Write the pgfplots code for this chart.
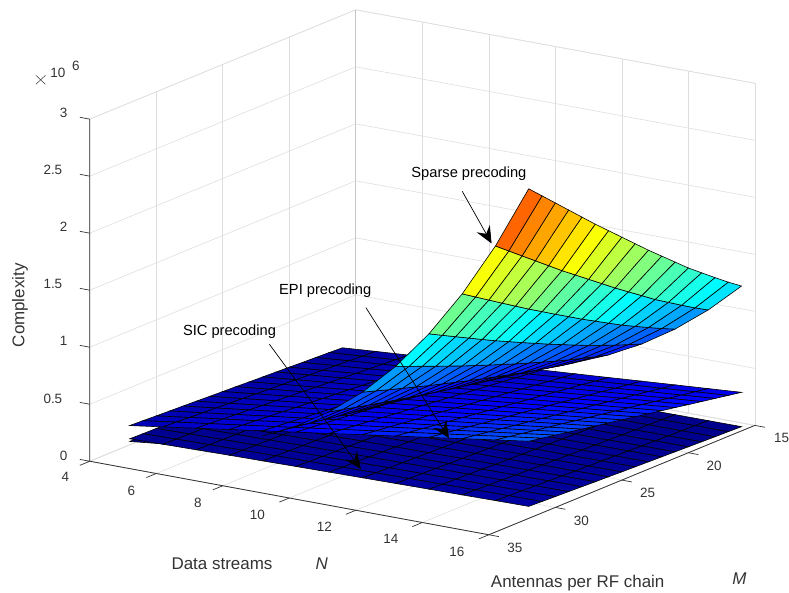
\documentclass[border=0pt]{standalone}
\usepackage{fontspec}
\setmainfont{Liberation Sans}
\usepackage{pgfplots}
\usepackage{pgfplotstable}
\pgfplotsset{compat=1.18}
\usetikzlibrary{arrows.meta}
\definecolor{axdark}{gray}{0.2}
\definecolor{axgrid}{gray}{0.87}
\definecolor{axback}{gray}{0.78}
\pgfplotstableread{
N M sic epi
4 16 .019 .084
4 17 .020 .090
4 18 .022 .095
4 19 .024 .100
4 20 .026 .106
4 21 .028 .111
4 22 .030 .116
4 23 .032 .121
4 24 .034 .127
4 25 .036 .132
4 26 .038 .137
4 27 .041 .143
4 28 .043 .148
4 29 .045 .153
4 30 .048 .158
4 31 .050 .164
4 32 .053 .169
5 16 .021 .106
5 17 .023 .112
5 18 .025 .119
5 19 .027 .125
5 20 .029 .132
5 21 .031 .139
5 22 .033 .145
5 23 .036 .152
5 24 .038 .158
5 25 .041 .165
5 26 .043 .172
5 27 .045 .178
5 28 .048 .185
5 29 .051 .191
5 30 .053 .198
5 31 .056 .205
5 32 .059 .211
6 16 .023 .127
6 17 .025 .135
6 18 .027 .143
6 19 .029 .150
6 20 .032 .158
6 21 .034 .166
6 22 .037 .174
6 23 .039 .182
6 24 .042 .190
6 25 .044 .198
6 26 .047 .206
6 27 .050 .214
6 28 .053 .222
6 29 .056 .230
6 30 .058 .238
6 31 .061 .246
6 32 .064 .253
7 16 .025 .148
7 17 .027 .157
7 18 .029 .166
7 19 .032 .176
7 20 .034 .185
7 21 .037 .194
7 22 .040 .203
7 23 .042 .213
7 24 .045 .222
7 25 .048 .231
7 26 .051 .240
7 27 .054 .249
7 28 .057 .259
7 29 .060 .268
7 30 .063 .277
7 31 .066 .286
7 32 .070 .296
8 16 .026 .169
8 17 .029 .180
8 18 .031 .190
8 19 .034 .201
8 20 .037 .211
8 21 .040 .222
8 22 .042 .232
8 23 .045 .243
8 24 .048 .253
8 25 .051 .264
8 26 .054 .275
8 27 .057 .285
8 28 .061 .296
8 29 .064 .306
8 30 .067 .317
8 31 .071 .327
8 32 .074 .338
9 16 .028 .190
9 17 .031 .202
9 18 .033 .214
9 19 .036 .226
9 20 .039 .238
9 21 .042 .249
9 22 .045 .261
9 23 .048 .273
9 24 .051 .285
9 25 .054 .297
9 26 .058 .309
9 27 .061 .321
9 28 .065 .333
9 29 .068 .345
9 30 .071 .356
9 31 .075 .368
9 32 .079 .380
10 16 .029 .211
10 17 .032 .224
10 18 .035 .238
10 19 .038 .251
10 20 .041 .264
10 21 .044 .277
10 22 .047 .290
10 23 .051 .304
10 24 .054 .317
10 25 .057 .330
10 26 .061 .343
10 27 .064 .356
10 28 .068 .370
10 29 .072 .383
10 30 .075 .396
10 31 .079 .409
10 32 .083 .422
11 16 .031 .232
11 17 .034 .247
11 18 .037 .261
11 19 .040 .276
11 20 .043 .290
11 21 .046 .305
11 22 .050 .319
11 23 .053 .334
11 24 .057 .348
11 25 .060 .363
11 26 .064 .378
11 27 .067 .392
11 28 .071 .407
11 29 .075 .421
11 30 .079 .436
11 31 .083 .450
11 32 .087 .465
12 16 .032 .253
12 17 .035 .269
12 18 .038 .285
12 19 .042 .301
12 20 .045 .317
12 21 .048 .333
12 22 .052 .348
12 23 .055 .364
12 24 .059 .380
12 25 .063 .396
12 26 .067 .412
12 27 .070 .428
12 28 .074 .444
12 29 .079 .459
12 30 .082 .475
12 31 .087 .491
12 32 .091 .507
13 16 .034 .275
13 17 .037 .292
13 18 .040 .309
13 19 .043 .326
13 20 .047 .343
13 21 .050 .360
13 22 .054 .378
13 23 .058 .395
13 24 .062 .412
13 25 .065 .429
13 26 .069 .446
13 27 .073 .463
13 28 .078 .480
13 29 .082 .498
13 30 .086 .515
13 31 .090 .532
13 32 .095 .549
14 16 .035 .296
14 17 .038 .314
14 18 .042 .333
14 19 .045 .351
14 20 .049 .370
14 21 .052 .388
14 22 .056 .407
14 23 .060 .425
14 24 .064 .444
14 25 .068 .462
14 26 .072 .481
14 27 .076 .499
14 28 .080 .517
14 29 .085 .536
14 30 .089 .554
14 31 .094 .573
14 32 .098 .591
15 16 .036 .317
15 17 .040 .337
15 18 .043 .356
15 19 .046 .376
15 20 .050 .396
15 21 .054 .416
15 22 .058 .436
15 23 .062 .455
15 24 .066 .475
15 25 .070 .495
15 26 .074 .515
15 27 .079 .535
15 28 .083 .554
15 29 .088 .574
15 30 .092 .594
15 31 .097 .614
15 32 .102 .634
16 16 .037 .338
16 17 .041 .359
16 18 .044 .380
16 19 .048 .401
16 20 .052 .422
16 21 .056 .444
16 22 .060 .465
16 23 .064 .486
16 24 .068 .507
16 25 .072 .528
16 26 .077 .549
16 27 .081 .570
16 28 .086 .591
16 29 .091 .612
16 30 .095 .634
16 31 .100 .655
16 32 .105 .676
}\datatable
\pgfplotstableread{
N M sparse
4 16 .009
4 17 .009
4 18 .010
4 19 .011
4 20 .012
4 21 .014
4 22 .015
4 23 .016
4 24 .017
4 25 .019
4 26 .020
4 27 .022
4 28 .023
4 29 .025
4 30 .026
4 31 .028
4 32 .030
5 16 .019
5 17 .021
5 18 .023
5 19 .025
5 20 .027
5 21 .030
5 22 .032
5 23 .035
5 24 .037
5 25 .040
5 26 .043
5 27 .046
5 28 .049
5 29 .052
5 30 .055
5 31 .059
5 32 .062
6 16 .037
6 17 .040
6 18 .044
6 19 .048
6 20 .051
6 21 .056
6 22 .060
6 23 .064
6 24 .069
6 25 .074
6 26 .079
6 27 .084
6 28 .090
6 29 .095
6 30 .101
6 31 .107
6 32 .113
7 16 .065
7 17 .070
7 18 .076
7 19 .082
7 20 .088
7 21 .095
7 22 .103
7 23 .110
7 24 .118
7 25 .126
7 26 .134
7 27 .142
7 28 .151
7 29 .160
7 30 .170
7 31 .179
7 32 .189
8 16 .105
8 17 .113
8 18 .122
8 19 .132
8 20 .141
8 21 .152
8 22 .163
8 23 .174
8 24 .186
8 25 .199
8 26 .211
8 27 .224
8 28 .237
8 29 .251
8 30 .265
8 31 .279
8 32 .293
}\sparselow
\pgfplotstableread{
N M sparse
8 16 .105
8 17 .113
8 18 .122
8 19 .132
8 20 .141
8 21 .152
8 22 .163
8 23 .174
8 24 .186
8 25 .199
8 26 .211
8 27 .224
8 28 .237
8 29 .251
8 30 .265
8 31 .279
8 32 .293
9 16 .160
9 17 .172
9 18 .186
9 19 .200
9 20 .214
9 21 .229
9 22 .245
9 23 .262
9 24 .279
9 25 .296
9 26 .314
9 27 .333
9 28 .352
9 29 .371
9 30 .391
9 31 .411
9 32 .432
10 16 .234
10 17 .251
10 18 .270
10 19 .289
10 20 .309
10 21 .331
10 22 .354
10 23 .377
10 24 .401
10 25 .425
10 26 .450
10 27 .475
10 28 .502
10 29 .528
10 30 .556
10 31 .584
10 32 .612
11 16 .330
11 17 .353
11 18 .379
11 19 .406
11 20 .433
11 21 .463
11 22 .493
11 23 .524
11 24 .556
11 25 .589
11 26 .623
11 27 .656
11 28 .692
11 29 .728
11 30 .764
11 31 .801
11 32 .838
12 16 .451
12 17 .483
12 18 .517
12 19 .552
12 20 .588
12 21 .628
12 22 .668
12 23 .708
12 24 .751
12 25 .794
12 26 .838
12 27 .882
12 28 .929
12 29 .975
12 30 1.023
12 31 1.070
12 32 1.118
13 16 .601
13 17 .643
13 18 .687
13 19 .733
13 20 .780
13 21 .831
13 22 .883
13 23 .935
13 24 .990
13 25 1.045
13 26 1.101
13 27 1.157
13 28 1.216
13 29 1.276
13 30 1.336
13 31 1.396
13 32 1.457
14 16 .785
14 17 .838
14 18 .895
14 19 .953
14 20 1.012
14 21 1.077
14 22 1.143
14 23 1.208
14 24 1.278
14 25 1.347
14 26 1.418
14 27 1.488
14 28 1.562
14 29 1.636
14 30 1.711
14 31 1.786
14 32 1.861
15 16 1.007
15 17 1.073
15 18 1.144
15 19 1.217
15 20 1.290
15 21 1.372
15 22 1.453
15 23 1.535
15 24 1.621
15 25 1.707
15 26 1.793
15 27 1.879
15 28 1.970
15 29 2.061
15 30 2.152
15 31 2.243
15 32 2.335
16 16 1.270
16 17 1.352
16 18 1.440
16 19 1.530
16 20 1.620
16 21 1.720
16 22 1.820
16 23 1.920
16 24 2.025
16 25 2.130
16 26 2.235
16 27 2.340
16 28 2.450
16 29 2.560
16 30 2.670
16 31 2.780
16 32 2.890
}\sparsehigh
\begin{document}
\begin{tikzpicture}[x=1pt,y=1pt]
\begin{axis}[
  disabledatascaling,
  y dir=reverse,
  x={(33.33pt,-6.14pt)}, y={(13.33pt,5.48pt)}, z={(0pt,114.3pt)},
  xmin=4,xmax=16,ymin=15,ymax=35,zmin=0,zmax=3,
  xtick={4,6,...,16}, ytick={15,20,...,35}, ztick={0,0.5,1,1.5,2,2.5,3},
  xticklabels={}, yticklabels={}, zticklabels={},
  grid=major, grid style={axgrid, line width=0.6pt},
  axis line style={axgrid, line width=0.6pt},
  tick style={draw=none},
  major tick length=0pt,
  point meta min=0, point meta max=2.89,
  colormap/jet,
  clip=false,
  every axis plot/.append style={line width=0.6pt},
]
\draw[axback,line width=0.6pt] (axis cs:4,15,0)--(axis cs:4,15,3);
\addplot3[surf, shader=flat corner, draw=black, mesh/ordering=y varies, mesh/rows=17, mesh/cols=5] table[x=N,y=M,z=sparse] {\sparselow};
\addplot3[surf, shader=flat corner, draw=black, mesh/ordering=y varies, mesh/rows=17, mesh/cols=13] table[x=N,y=M,z=sic] {\datatable};
\addplot3[surf, shader=flat corner, draw=black, mesh/ordering=y varies, mesh/rows=17, mesh/cols=13] table[x=N,y=M,z=epi] {\datatable};
\addplot3[surf, shader=flat corner, draw=black, mesh/ordering=y varies, mesh/rows=17, mesh/cols=9] table[x=N,y=M,z=sparse] {\sparsehigh};
\draw[axdark,line width=0.8pt] (axis cs:4,35,3)--(axis cs:4,35,0)--(axis cs:16,35,0)--(axis cs:16,15,0);
\draw[axdark,line width=0.7pt]
 (axis cs:4,35,0)--(axis cs:4,35.75,0) (axis cs:6,35,0)--(axis cs:6,35.75,0) (axis cs:8,35,0)--(axis cs:8,35.75,0)
 (axis cs:10,35,0)--(axis cs:10,35.75,0) (axis cs:12,35,0)--(axis cs:12,35.75,0) (axis cs:14,35,0)--(axis cs:14,35.75,0) (axis cs:16,35,0)--(axis cs:16,35.75,0)
 (axis cs:16,35,0)--(axis cs:16.3,35,0) (axis cs:16,30,0)--(axis cs:16.3,30,0) (axis cs:16,25,0)--(axis cs:16.3,25,0) (axis cs:16,20,0)--(axis cs:16.3,20,0) (axis cs:16,15,0)--(axis cs:16.3,15,0)
 (axis cs:4,35,0)--(axis cs:3.7,35,0) (axis cs:4,35,0.5)--(axis cs:3.7,35,0.5) (axis cs:4,35,1)--(axis cs:3.7,35,1) (axis cs:4,35,1.5)--(axis cs:3.7,35,1.5) (axis cs:4,35,2)--(axis cs:3.7,35,2) (axis cs:4,35,2.5)--(axis cs:3.7,35,2.5) (axis cs:4,35,3)--(axis cs:3.7,35,3);
\coordinate (c) at (axis cs:4,35,0);
\end{axis}
\begin{scope}[shift={(c)},xshift=-90pt,yshift=462.3pt]
\path (0,0) rectangle (789,-594);
\tikzset{lab/.style={font=\fontsize{17}{20}\selectfont, text=axdark, inner sep=0pt},
 tl/.style={font=\fontsize{13.5}{16}\selectfont, text=axdark, inner sep=0pt},
 ann/.style={font=\fontsize{14.7}{18}\selectfont, text=black, inner sep=0pt},
 arr/.style={-{Stealth[length=17pt,width=15pt,inset=6pt]}, line width=0.7pt, black}}
\node[tl] at (65.5,-478) {4};
\node[tl] at (131.7,-491.7) {6};
\node[tl] at (198.3,-504) {8};
\node[tl] at (258,-515.7) {10};
\node[tl] at (325,-528.3) {12};
\node[tl] at (391.7,-540) {14};
\node[tl] at (458,-552.7) {16};
\node[tl] at (516,-549) {35};
\node[tl] at (582.7,-521.7) {30};
\node[tl] at (649,-494) {25};
\node[tl] at (715.7,-466.5) {20};
\node[tl] at (783.3,-438.7) {15};
\node[tl] at (63.7,-456.7) {0};
\node[tl] at (53,-399.3) {0.5};
\node[tl] at (63.7,-342) {1};
\node[tl] at (53,-285) {1.5};
\node[tl] at (63.7,-227.7) {2};
\node[tl] at (53,-170.5) {2.5};
\node[tl] at (63.7,-113.3) {3};
\node[lab] at (222.5,-565) {Data streams};
\node[lab] at (322.5,-565) {\itshape N};
\node[lab] at (579,-584) {Antennas per RF chain};
\node[lab] at (741,-580) {\itshape M};
\node[lab,rotate=90] at (20,-306) {Complexity};
\node[tl] at (58,-73) {10};
\node[tl] at (76,-66) {6};
\draw[axdark,line width=0.5pt] (36,-75.5)--(45.5,-84.5) (45.5,-75.5)--(36,-84.5);
\node[ann] at (470,-174) {Sparse precoding};
\node[ann] at (326,-291) {EPI precoding};
\node[ann] at (230,-332) {SIC precoding};
\draw[arr] (463.3,-191.7)--(492.7,-244);
\draw[arr] (366.7,-308.3)--(450,-439.3);
\draw[arr] (270,-345)--(361.7,-470);
\end{scope}
\end{tikzpicture}
\end{document}
